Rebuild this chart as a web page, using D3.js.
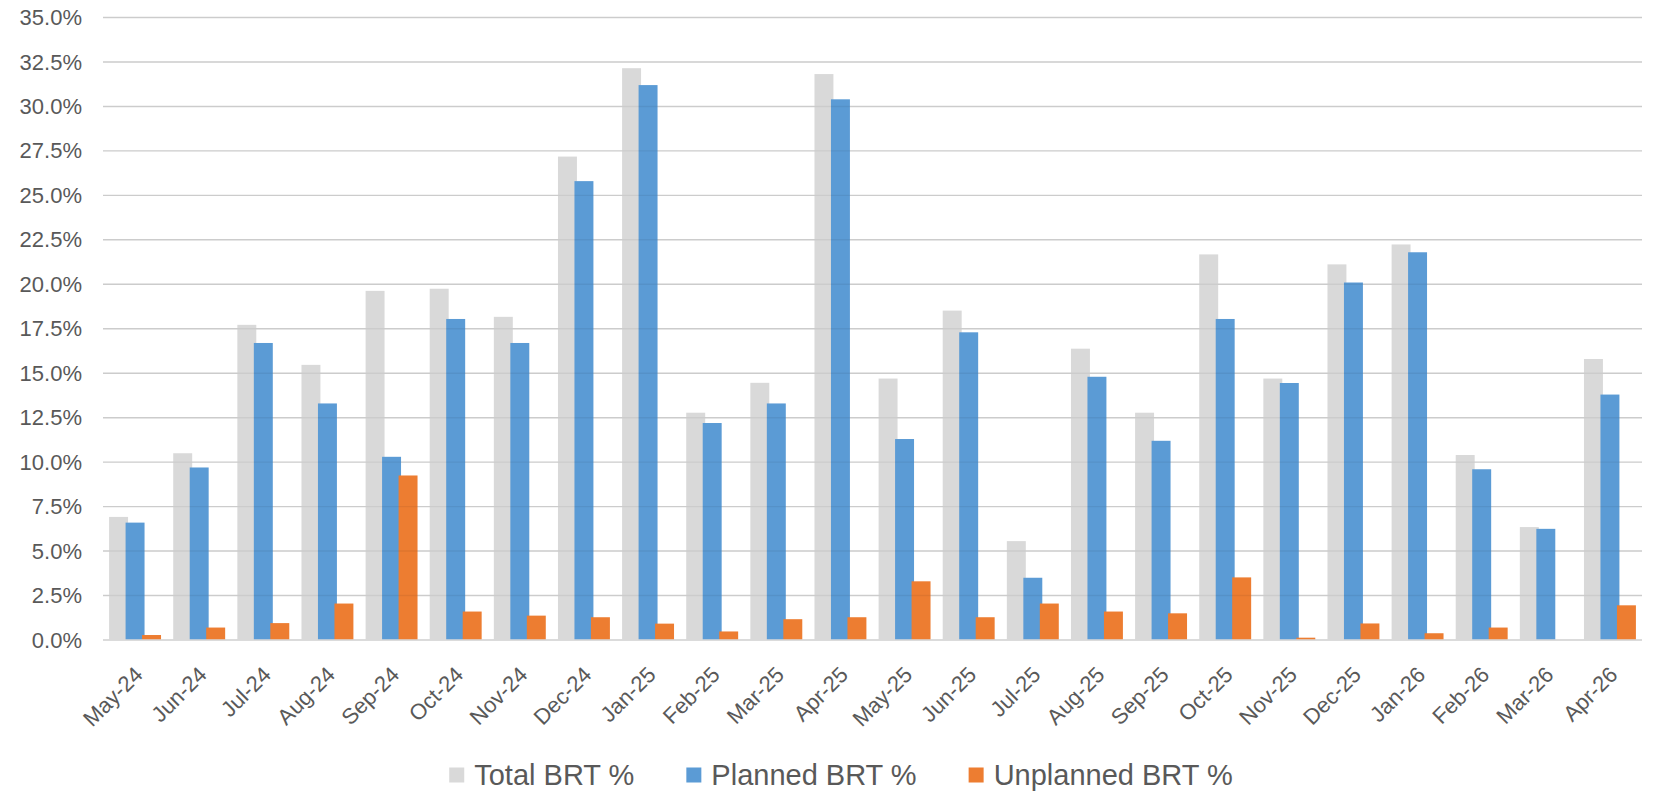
<!DOCTYPE html>
<html>
<head>
<meta charset="utf-8">
<script src="https://cdn.jsdelivr.net/npm/d3@7"></script>
<style>
  html, body { margin: 0; padding: 0; background: #ffffff; }
  svg { display: block; font-family: "Liberation Sans", Arial, sans-serif; }
</style>
</head>
<body>
<svg id="chart" width="1655" height="791"></svg>
<script>
// Monthly BRT percentages
const categories = ["May-24","Jun-24","Jul-24","Aug-24","Sep-24","Oct-24","Nov-24","Dec-24",
  "Jan-25","Feb-25","Mar-25","Apr-25","May-25","Jun-25","Jul-25","Aug-25","Sep-25","Oct-25",
  "Nov-25","Dec-25","Jan-26","Feb-26","Mar-26","Apr-26"];
const totalBRT = [6.92, 10.5, 17.72, 15.47, 19.63, 19.75, 18.17, 27.18, 32.15, 12.78, 14.46, 31.82,
  14.7, 18.52, 5.56, 16.38, 12.78, 21.68, 14.7, 21.12, 22.24, 10.4, 6.35, 15.8];
const plannedBRT = [6.6, 9.7, 16.7, 13.3, 10.3, 18.05, 16.7, 25.8, 31.2, 12.2, 13.3, 30.4,
  11.3, 17.3, 3.5, 14.8, 11.2, 18.05, 14.45, 20.1, 21.8, 9.6, 6.25, 13.8];
const unplannedBRT = [0.28, 0.7, 0.95, 2.05, 9.25, 1.6, 1.37, 1.28, 0.92, 0.48, 1.17, 1.28,
  3.3, 1.28, 2.05, 1.6, 1.5, 3.52, 0.13, 0.93, 0.38, 0.7, 0, 1.95];
const seriesNames = ["Total BRT %", "Planned BRT %", "Unplanned BRT %"];
const seriesColors = ["#d9d9d9", "#5b9bd5", "#ed7d31"];
const yTicks = d3.range(0, 35.001, 2.5);

const series = [totalBRT, plannedBRT, unplannedBRT];
const textColor = "#595959";

const svg = d3.select("#chart");
const plot = { left: 103, right: 1642, top: 17.5, bottom: 640 };

const x = d3.scaleBand()
  .domain(categories)
  .range([plot.left, plot.right])
  .paddingInner(0.19)
  .paddingOuter(0.095);

const y = d3.scaleLinear()
  .domain([0, 35])
  .range([plot.bottom, plot.top]);

// overlapping clustered bars
const barW = x.bandwidth() * 0.365;
const xs = d3.scaleLinear().domain([0, 2]).range([0, x.bandwidth() - barW]);

// gridlines
svg.append("g")
  .selectAll("line")
  .data(yTicks)
  .join("line")
  .attr("x1", plot.left)
  .attr("x2", plot.right)
  .attr("y1", d => y(d))
  .attr("y2", d => y(d))
  .attr("stroke", "#d9d9d9")
  .attr("stroke-width", 1.4);

// bars
series.forEach((vals, si) => {
  svg.append("g")
    .selectAll("rect")
    .data(vals.map((v, i) => ({ cat: categories[i], v })))
    .join("rect")
    .attr("x", d => x(d.cat) + xs(si))
    .attr("width", barW)
    .attr("y", d => y(d.v))
    .attr("height", d => y(0) - y(d.v))
    .attr("fill", seriesColors[si]);
});

// faint gridline traces over the bars
svg.append("g")
  .selectAll("line")
  .data(yTicks.filter(d => d > 0))
  .join("line")
  .attr("x1", plot.left)
  .attr("x2", plot.right)
  .attr("y1", d => y(d))
  .attr("y2", d => y(d))
  .attr("stroke", "rgba(0,0,0,0.06)")
  .attr("stroke-width", 1.4);

// baseline
svg.append("line")
  .attr("x1", plot.left).attr("x2", plot.right)
  .attr("y1", y(0)).attr("y2", y(0))
  .attr("stroke", "#d9d9d9").attr("stroke-width", 1.6);

// y axis labels
const yAxis = d3.axisLeft(y)
  .tickValues(yTicks)
  .tickFormat(d => d3.format(".1f")(d) + "%")
  .tickSize(0)
  .tickPadding(21);
const yg = svg.append("g")
  .attr("transform", `translate(${plot.left},0)`)
  .call(yAxis);
yg.select(".domain").remove();
yg.selectAll("text")
  .attr("font-size", 22)
  .attr("font-family", '"Liberation Sans", Arial, sans-serif')
  .attr("fill", textColor);

// x axis labels, rotated
const xAxis = d3.axisBottom(x).tickSize(0).tickPadding(0);
const xg = svg.append("g")
  .attr("transform", `translate(0,${plot.bottom})`)
  .call(xAxis);
xg.select(".domain").remove();
xg.selectAll("text")
  .attr("font-size", 22)
  .attr("font-family", '"Liberation Sans", Arial, sans-serif')
  .attr("fill", textColor)
  .attr("text-anchor", "end")
  .attr("dy", 0)
  .attr("y", 0)
  .attr("transform", "translate(9,36) rotate(-45)");

// legend
const legend = svg.append("g");
const swatch = 15, textGap = 25, itemGap = 52;
let cursor = 0;
seriesNames.forEach((name, i) => {
  const g = legend.append("g").attr("transform", `translate(${cursor},0)`);
  g.append("rect")
    .attr("x", 0).attr("y", -swatch / 2)
    .attr("width", swatch).attr("height", swatch)
    .attr("fill", seriesColors[i]);
  const t = g.append("text")
    .attr("x", textGap).attr("y", 0).attr("dy", "0.36em")
    .attr("font-size", 29)
    .attr("fill", textColor)
    .text(name);
  cursor += textGap + t.node().getComputedTextLength() + itemGap;
});
const legendW = cursor - itemGap;
legend.attr("transform", `translate(${841 - legendW / 2},775)`);
</script>
</body>
</html>
